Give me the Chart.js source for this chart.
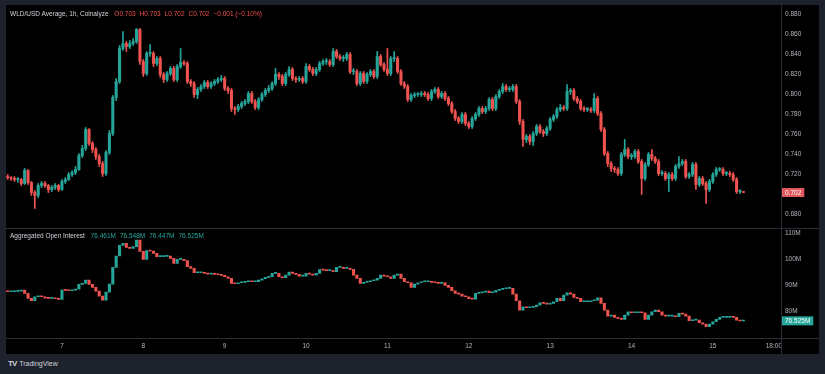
<!DOCTYPE html>
<html>
<head>
<meta charset="utf-8">
<script src="https://cdn.jsdelivr.net/npm/chart.js@4.4.1/dist/chart.umd.min.js"></script>
<style>
  body { margin: 0; width: 825px; height: 374px; overflow: hidden; background: #1e222d; font-family: "Liberation Sans", Arial, sans-serif; }
  #panel { position: absolute; left: 6px; top: 5px; width: 813px; height: 349px; background: #000; }
  canvas { position: absolute; left: 6px; }
  #priceCanvas { top: 5px; }
  #oiCanvas { top: 228px; }
  .line { position: absolute; background: #2a2e39; }
  .hdr { position: absolute; left: 10px; font-size: 6.5px; color: #d1d4dc; white-space: nowrap; }
  .hdr span { margin-left: 4px; }
  .red { color: #ef5350; }
  .teal { color: #26a69a; }
  #logo { position: absolute; left: 8px; top: 359px; font-size: 7px; color: #d1d4dc; }
  #logo b { font-size: 8px; letter-spacing: -1px; margin-right: 3px; }
</style>
</head>
<body>
<div id="panel"></div>
<canvas id="priceCanvas" width="813" height="223"></canvas>
<canvas id="oiCanvas" width="813" height="126"></canvas>
<div class="line" style="left:781px;top:5px;width:1px;height:349px"></div>
<div class="line" style="left:6px;top:228px;width:813px;height:1px"></div>
<div class="line" style="left:6px;top:338px;width:813px;height:1px"></div>
<div class="hdr" style="top:10px">WLD/USD Average, 1h, Coinalyze <span class="red">O0.703</span><span class="red">H0.703</span><span class="red">L0.702</span><span class="red">C0.702</span><span class="red">&minus;0.001 (&minus;0.10%)</span></div>
<div class="hdr" style="top:231.5px">Aggregated Open Interest <span class="teal">76.461M</span><span class="teal">76.548M</span><span class="teal">76.447M</span><span class="teal">76.525M</span></div>
<div id="logo"><b>TV</b>TradingView</div>
<script>
// hourly candles, first one is 6th 08:00
const priceOpen = [
0.718,0.717,0.716,0.715,0.715,0.711,0.724,0.712,0.702,0.699,
0.709,0.711,0.709,0.705,0.707,0.709,0.705,0.713,0.715,0.720,
0.722,0.725,0.739,0.746,0.765,0.751,0.745,0.738,0.731,0.721,
0.742,0.761,0.797,0.813,0.846,0.851,0.848,0.851,0.853,0.865,
0.833,0.821,0.841,0.841,0.831,0.836,0.820,0.815,0.821,0.826,
0.815,0.828,0.832,0.831,0.813,0.811,0.800,0.805,0.808,0.812,
0.808,0.811,0.813,0.815,0.816,0.806,0.804,0.786,0.785,0.788,
0.791,0.793,0.801,0.793,0.787,0.795,0.800,0.804,
0.806,0.811,0.820,0.818,0.811,0.820,0.825,0.816,0.815,0.816,
0.813,0.828,0.825,0.821,0.825,0.831,0.833,0.833,0.830,0.843,
0.838,0.836,0.836,0.840,0.823,0.823,0.811,0.821,0.813,0.820,
0.823,0.818,0.838,0.830,0.825,0.821,0.836,0.836,0.823,0.811,
0.808,0.795,0.799,0.800,0.800,0.801,0.800,0.796,0.803,0.805,
0.798,0.801,0.796,0.791,0.783,0.776,0.773,0.780,0.771,0.768,
0.776,0.780,0.786,0.783,0.786,0.795,0.786,0.798,0.803,0.808,
0.805,0.805,0.808,0.793,0.773,0.755,0.758,0.753,0.761,
0.768,0.763,0.761,0.766,0.775,0.778,0.785,0.787,0.786,0.803,
0.804,0.796,0.793,0.786,0.785,0.785,0.784,0.796,0.781,0.765,
0.741,0.731,0.726,0.725,0.721,0.740,0.745,0.738,0.738,0.743,
0.733,0.716,0.730,0.740,0.736,0.733,0.721,0.721,0.716,0.720,
0.716,0.728,0.731,0.733,0.718,0.720,0.730,0.710,0.716,0.711,
0.705,0.713,0.720,0.725,0.725,0.721,0.721,0.720,0.715,0.703,
0.703
]
const priceHigh = [
0.720,0.718,0.718,0.717,0.716,0.726,0.725,0.713,0.704,0.711,
0.713,0.713,0.710,0.709,0.711,0.710,0.715,0.717,0.722,0.724,
0.728,0.741,0.749,0.767,0.766,0.753,0.747,0.740,0.733,0.744,
0.764,0.799,0.816,0.849,0.863,0.853,0.854,0.856,0.866,0.866,
0.835,0.843,0.850,0.843,0.838,0.838,0.822,0.823,0.828,0.828,
0.830,0.846,0.834,0.833,0.815,0.813,0.807,0.810,0.814,0.814,
0.813,0.815,0.817,0.819,0.818,0.808,0.806,0.788,0.790,0.793,
0.795,0.803,0.803,0.795,0.797,0.802,0.806,0.809,
0.813,0.826,0.822,0.820,0.822,0.828,0.827,0.818,0.818,0.818,
0.831,0.830,0.827,0.827,0.833,0.835,0.836,0.835,0.846,0.845,
0.840,0.839,0.842,0.842,0.826,0.825,0.823,0.823,0.822,0.825,
0.825,0.843,0.840,0.832,0.846,0.838,0.843,0.838,0.825,0.813,
0.810,0.801,0.802,0.802,0.803,0.803,0.802,0.805,0.807,0.807,
0.803,0.803,0.798,0.793,0.785,0.778,0.782,0.782,0.773,0.778,
0.782,0.788,0.788,0.788,0.797,0.797,0.800,0.805,0.811,0.810,
0.808,0.810,0.810,0.795,0.775,0.760,0.760,0.763,0.770,
0.770,0.765,0.768,0.777,0.780,0.787,0.790,0.789,0.810,0.806,
0.806,0.798,0.795,0.788,0.787,0.787,0.801,0.798,0.783,0.767,
0.743,0.733,0.728,0.727,0.742,0.755,0.747,0.741,0.745,0.745,
0.735,0.732,0.742,0.745,0.738,0.735,0.724,0.723,0.722,0.722,
0.730,0.738,0.735,0.735,0.722,0.732,0.732,0.718,0.718,0.713,
0.715,0.722,0.727,0.727,0.727,0.723,0.723,0.722,0.717,0.705,
0.703
]
const priceLow = [
0.715,0.714,0.713,0.712,0.709,0.710,0.710,0.699,0.686,0.697,
0.707,0.707,0.702,0.703,0.705,0.703,0.704,0.711,0.714,0.718,
0.720,0.724,0.737,0.744,0.749,0.742,0.735,0.728,0.718,0.719,
0.740,0.759,0.794,0.811,0.844,0.843,0.846,0.849,0.851,0.830,
0.818,0.819,0.838,0.828,0.829,0.817,0.812,0.813,0.819,0.813,
0.813,0.826,0.829,0.811,0.808,0.797,0.796,0.803,0.806,0.806,
0.806,0.809,0.811,0.813,0.804,0.801,0.783,0.780,0.783,0.786,
0.789,0.791,0.791,0.785,0.785,0.793,0.798,0.802,
0.804,0.809,0.815,0.809,0.809,0.818,0.814,0.812,0.813,0.811,
0.811,0.823,0.819,0.819,0.823,0.829,0.830,0.828,0.828,0.836,
0.834,0.833,0.834,0.821,0.820,0.809,0.809,0.811,0.811,0.818,
0.816,0.816,0.828,0.823,0.819,0.819,0.833,0.821,0.809,0.806,
0.793,0.793,0.797,0.798,0.798,0.798,0.794,0.794,0.801,0.796,
0.796,0.794,0.789,0.781,0.774,0.771,0.771,0.769,0.766,0.766,
0.774,0.778,0.781,0.781,0.784,0.784,0.784,0.796,0.801,0.803,
0.803,0.803,0.791,0.770,0.748,0.752,0.750,0.749,0.759,
0.761,0.758,0.759,0.764,0.773,0.776,0.783,0.784,0.784,0.800,
0.794,0.791,0.784,0.783,0.783,0.782,0.782,0.779,0.763,0.739,
0.728,0.723,0.722,0.719,0.719,0.738,0.736,0.735,0.736,0.731,
0.700,0.714,0.728,0.734,0.731,0.719,0.719,0.714,0.703,0.714,
0.714,0.726,0.729,0.716,0.716,0.718,0.705,0.708,0.709,0.691,
0.703,0.711,0.718,0.723,0.719,0.719,0.718,0.713,0.701,0.701,
0.702
]
const priceClose = [
0.717,0.716,0.715,0.715,0.711,0.724,0.712,0.702,0.699,0.709,
0.711,0.709,0.705,0.707,0.709,0.705,0.713,0.715,0.720,0.722,
0.725,0.739,0.746,0.765,0.751,0.745,0.738,0.731,0.721,0.742,
0.761,0.797,0.813,0.846,0.851,0.848,0.851,0.853,0.865,0.833,
0.821,0.841,0.841,0.831,0.836,0.820,0.815,0.821,0.826,0.815,
0.828,0.832,0.831,0.813,0.811,0.800,0.805,0.808,0.812,0.808,
0.811,0.813,0.815,0.816,0.806,0.804,0.786,0.785,0.788,0.791,
0.793,0.801,0.793,0.787,0.795,0.800,0.804,0.806,
0.811,0.820,0.818,0.811,0.820,0.825,0.816,0.815,0.816,0.813,
0.828,0.825,0.821,0.825,0.831,0.833,0.833,0.830,0.843,0.838,
0.836,0.836,0.840,0.823,0.823,0.811,0.821,0.813,0.820,0.823,
0.818,0.838,0.830,0.825,0.821,0.836,0.836,0.823,0.811,0.808,
0.795,0.799,0.800,0.800,0.801,0.800,0.796,0.803,0.805,0.798,
0.801,0.796,0.791,0.783,0.776,0.773,0.780,0.771,0.768,0.776,
0.780,0.786,0.783,0.786,0.795,0.786,0.798,0.803,0.808,0.805,
0.805,0.808,0.793,0.773,0.755,0.758,0.753,0.761,0.768,
0.763,0.761,0.766,0.775,0.778,0.785,0.787,0.786,0.803,0.804,
0.796,0.793,0.786,0.785,0.785,0.784,0.796,0.781,0.765,0.741,
0.731,0.726,0.725,0.721,0.740,0.745,0.738,0.738,0.743,0.733,
0.716,0.730,0.740,0.736,0.733,0.721,0.721,0.716,0.720,0.716,
0.728,0.731,0.733,0.718,0.720,0.730,0.710,0.716,0.711,0.705,
0.713,0.720,0.725,0.725,0.721,0.721,0.720,0.715,0.703,0.703,
0.702
]

// open interest, millions
const oiOpen = [
87.60,87.58,87.58,87.71,87.84,88.22,86.95,85.05,84.16,85.68,
86.06,85.68,85.17,85.05,85.05,84.92,84.67,88.22,88.09,87.96,
88.22,88.60,90.37,90.75,92.02,90.37,89.23,87.84,85.93,84.41,
87.46,90.50,96.83,101.14,105.20,105.96,104.44,104.06,104.69,107.23,
102.92,99.88,103.17,103.05,102.16,100.89,100.89,101.02,101.14,100.26,
98.36,99.88,99.88,99.37,97.09,96.45,94.81,94.81,94.81,94.55,
94.30,94.30,94.17,94.05,93.79,93.29,92.65,90.75,90.62,91.00,
91.13,91.38,91.76,91.38,91.38,92.02,92.53,93.03,93.29,94.55,
94.55,93.29,92.91,93.92,95.06,94.55,94.17,93.54,93.54,94.55,
94.30,93.92,94.55,95.95,95.82,95.57,95.57,95.19,96.83,96.83,
96.45,96.45,96.07,93.92,92.65,90.75,91.13,91.38,91.76,92.02,
92.65,93.92,93.54,93.29,92.65,93.92,94.30,92.65,91.38,91.00,
89.23,90.50,91.00,91.38,91.38,91.38,91.13,91.00,90.75,91.00,
89.99,89.23,87.96,86.95,86.70,85.93,85.68,84.92,84.79,86.95,
87.20,87.46,87.84,87.20,87.46,88.09,88.47,88.72,88.85,88.85,
86.70,84.16,80.61,81.88,81.50,81.63,81.88,82.51,83.40,83.15,
82.89,83.15,83.78,85.05,84.16,86.32,87.20,86.70,85.43,85.05,
83.78,83.78,83.78,84.16,84.41,85.30,83.15,80.61,78.33,78.71,
77.82,77.44,77.06,78.71,79.98,79.60,79.60,79.98,79.60,77.06,
78.71,79.98,80.61,79.98,78.71,78.33,78.33,78.33,78.08,79.34,
79.09,78.33,76.56,76.81,76.81,75.80,75.29,74.27,75.29,76.18,
77.06,77.82,77.82,77.82,78.08,77.82,76.81,76.461
]
const oiClose = [
87.58,87.58,87.71,87.84,88.22,86.95,85.05,84.16,85.68,86.06,
85.68,85.17,85.05,85.05,84.92,84.67,88.22,88.09,87.96,88.22,
88.60,90.37,90.75,92.02,90.37,89.23,87.84,85.93,84.41,87.46,
90.50,96.83,101.14,105.20,105.96,104.44,104.06,104.69,107.23,102.92,
99.88,103.17,103.05,102.16,100.89,100.89,101.02,101.14,100.26,98.36,
99.88,99.88,99.37,97.09,96.45,94.81,94.81,94.81,94.55,94.30,
94.30,94.17,94.05,93.79,93.29,92.65,90.75,90.62,91.00,91.13,
91.38,91.76,91.38,91.38,92.02,92.53,93.03,93.29,94.55,94.55,
93.29,92.91,93.92,95.06,94.55,94.17,93.54,93.54,94.55,94.30,
93.92,94.55,95.95,95.82,95.57,95.57,95.19,96.83,96.83,96.45,
96.45,96.07,93.92,92.65,90.75,91.13,91.38,91.76,92.02,92.65,
93.92,93.54,93.29,92.65,93.92,94.30,92.65,91.38,91.00,89.23,
90.50,91.00,91.38,91.38,91.38,91.13,91.00,90.75,91.00,89.99,
89.23,87.96,86.95,86.70,85.93,85.68,84.92,84.79,86.95,87.20,
87.46,87.84,87.20,87.46,88.09,88.47,88.72,88.85,88.85,86.70,
84.16,80.61,81.88,81.50,81.63,81.88,82.51,83.40,83.15,82.89,
83.15,83.78,85.05,84.16,86.32,87.20,86.70,85.43,85.05,83.78,
83.78,83.78,84.16,84.41,85.30,83.15,80.61,78.33,78.71,77.82,
77.44,77.06,78.71,79.98,79.60,79.60,79.98,79.60,77.06,78.71,
79.98,80.61,79.98,78.71,78.33,78.33,78.33,78.08,79.34,79.09,
78.33,76.56,76.81,76.81,75.80,75.29,74.27,75.29,76.18,77.06,
77.82,77.82,77.82,78.08,77.82,76.81,76.461,76.525
]

const dayTicks = [0, 24, 48, 72, 96, 120, 144, 168, 192, 210]
const dayLabels = ['7', '8', '9', '10', '11', '12', '13', '14', '15', '18:00']
const priceTicks = [0.68, 0.70, 0.72, 0.74, 0.76, 0.78, 0.80, 0.82, 0.84, 0.86, 0.88]
const oiTicks = [80, 90, 100, 110]

const UP = '#26a69a'
const DOWN = '#ef5350'
const AXIS_TEXT = '#b2b5be'
const FONT = '"Liberation Sans", Arial, sans-serif'

// hours since the 7th 00:00
const hours = priceClose.map((_, i) => i - 16)

function candleSets(open, close, high, low) {
    const col = c => close[c.dataIndex] >= open[c.dataIndex] ? UP : DOWN
    const sets = []
    if (high) {
        sets.push({
            data: hours.map((h, i) => ({ x: h, y: [low[i], high[i]] })),
            backgroundColor: col,
            barThickness: 1,
            grouped: false
        })
    }
    sets.push({
        data: hours.map((h, i) => ({ x: h, y: [open[i], close[i]] })),
        backgroundColor: col,
        barThickness: 2.4,
        minBarLength: 1,
        grouped: false
    })
    return sets
}

function badge(value, text, color) {
    return {
        id: 'badge',
        afterDraw(chart) {
            const c = chart.ctx
            const y = chart.scales.y.getPixelForValue(value)
            const x = chart.chartArea.right
            c.save()
            c.font = '6.5px ' + FONT
            const w = c.measureText(text).width + 6
            c.fillStyle = color
            c.fillRect(x + 1, y - 4.5, w, 9)
            c.fillStyle = '#fff'
            c.textBaseline = 'middle'
            c.fillText(text, x + 4, y + 0.5)
            c.restore()
        }
    }
}

const xRange = { type: 'linear', min: -16.5, max: 212.1, offset: false }

function yAxis(min, max, ticks, fmt) {
    return {
        position: 'right',
        min: min,
        max: max,
        grid: { display: false, drawTicks: false },
        border: { display: false },
        afterBuildTicks: s => { s.ticks = ticks.map(v => ({ value: v })) },
        afterFit: s => {
            s.width = 38
            s.paddingTop = 0
            s.paddingBottom = 0
        },
        ticks: {
            color: AXIS_TEXT,
            font: { size: 6.5, family: FONT },
            padding: 4,
            callback: fmt
        }
    }
}

const baseOptions = {
    responsive: false,
    animation: false,
    layout: { padding: 0, autoPadding: false },
    plugins: { legend: { display: false }, tooltip: { enabled: false } }
}

const priceChart = new Chart(document.getElementById('priceCanvas'), {
    type: 'bar',
    data: { datasets: candleSets(priceOpen, priceClose, priceHigh, priceLow) },
    options: Object.assign({}, baseOptions, {
        scales: {
            x: Object.assign({ display: false }, xRange),
            y: yAxis(0.6665, 0.8895, priceTicks, v => v.toFixed(3))
        }
    }),
    plugins: [badge(priceClose[priceClose.length - 1], '0.702', '#e2575a')]
})

const oiChart = new Chart(document.getElementById('oiCanvas'), {
    type: 'bar',
    data: { datasets: candleSets(oiOpen, oiClose) },
    options: Object.assign({}, baseOptions, {
        scales: {
            x: Object.assign({
                grid: { display: false, drawTicks: false },
                border: { display: false },
                afterBuildTicks: s => { s.ticks = dayTicks.map(v => ({ value: v })) },
                afterFit: s => {
                    s.height = 15.5
                    s.paddingLeft = 0
                    s.paddingRight = 0
                },
                ticks: {
                    color: AXIS_TEXT,
                    font: { size: 6.5, family: FONT },
                    padding: 4,
                    autoSkip: false,
                    maxRotation: 0,
                    callback: (v, i) => dayLabels[i]
                }
            }, xRange),
            y: yAxis(69.82, 111.79, oiTicks, v => v + 'M')
        }
    }),
    plugins: [badge(oiClose[oiClose.length - 1], '76.525M', '#26a69a')]
})
</script>
</body>
</html>
